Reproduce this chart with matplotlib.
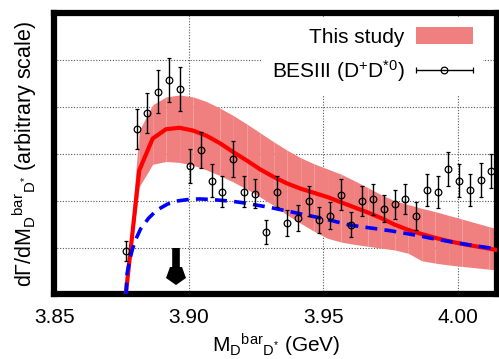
import numpy as np
import matplotlib
matplotlib.use('Agg')
import matplotlib.pyplot as plt
from matplotlib.patches import Patch
from matplotlib.markers import MarkerStyle
from matplotlib.transforms import Affine2D
from matplotlib.container import ErrorbarContainer
from matplotlib.legend_handler import HandlerErrorbar

plt.rcParams['font.family'] = ['Liberation Sans', 'DejaVu Sans']
plt.rcParams['mathtext.fontset'] = 'custom'
plt.rcParams['mathtext.rm'] = 'Liberation Sans'
plt.rcParams['mathtext.it'] = 'Liberation Sans:italic'
plt.rcParams['mathtext.default'] = 'regular'

# BESIII D+D*0 points (arbitrary scale)
mass = [3.8766, 3.8806, 3.8845, 3.8886, 3.8926, 3.8965, 3.9004, 3.9045, 3.9086,
        3.9124, 3.9165, 3.9206, 3.9245, 3.9285, 3.9326, 3.9363, 3.9404, 3.9445,
        3.9484, 3.9524, 3.9564, 3.9603, 3.9643, 3.9684, 3.9725, 3.9765, 3.9804,
        3.9844, 3.9885, 3.9925, 3.9964, 4.0005, 4.0045, 4.0084, 4.0124]
rate = [0.93, 3.53, 3.88, 4.33, 4.58, 4.38, 2.74, 3.09, 2.43,
        2.19, 2.89, 2.19, 2.15, 1.34, 2.19, 1.53, 1.63, 1.99,
        1.59, 1.68, 2.13, 1.49, 1.99, 2.03, 1.83, 1.93, 2.04,
        1.68, 2.23, 2.19, 2.68, 2.43, 2.23, 2.44, 2.64]
rate_err = [0.22, 0.43, 0.43, 0.46, 0.48, 0.47, 0.37, 0.39, 0.35,
            0.33, 0.38, 0.33, 0.31, 0.26, 0.33, 0.28, 0.28, 0.32,
            0.28, 0.29, 0.33, 0.27, 0.32, 0.33, 0.29, 0.31, 0.32,
            0.30, 0.34, 0.34, 0.37, 0.35, 0.34, 0.36, 0.37]

# this study: central curve and uncertainty band
model_mass = [3.8765, 3.8815, 3.8865, 3.8915, 3.8965, 3.9015, 3.9065, 3.9115,
              3.9165, 3.9215, 3.9265, 3.9315, 3.9365, 3.9415, 3.9465, 3.9515,
              3.9565, 3.9615, 3.9665, 3.9715, 3.9765, 3.9815, 3.9865, 3.9915,
              3.9965, 4.0015, 4.0065, 4.0115, 4.0165]
model_rate = [0.00, 2.65, 3.33, 3.53, 3.56, 3.50, 3.39, 3.23,
              3.04, 2.86, 2.67, 2.51, 2.37, 2.26, 2.17, 2.08,
              1.97, 1.86, 1.75, 1.63, 1.49, 1.38, 1.29, 1.21,
              1.14, 1.08, 1.03, 0.98, 0.93]
band_hi = [0.00, 3.50, 4.05, 4.22, 4.26, 4.22, 4.12, 3.98,
           3.82, 3.64, 3.45, 3.26, 3.08, 2.92, 2.79, 2.68,
           2.57, 2.43, 2.28, 2.13, 2.00, 1.92, 1.84, 1.77,
           1.69, 1.61, 1.53, 1.45, 1.37]
band_lo = [0.00, 2.30, 2.78, 2.84, 2.82, 2.76, 2.66, 2.54,
           2.40, 2.25, 2.08, 1.90, 1.70, 1.52, 1.35, 1.20,
           1.12, 1.07, 1.03, 0.99, 0.95, 0.88, 0.72, 0.67,
           0.63, 0.60, 0.57, 0.54, 0.51]

# dashed comparison curve
alt_mass = [3.8766, 3.8770, 3.8780, 3.8790, 3.8800, 3.8820, 3.8850, 3.8880,
            3.8920, 3.8960, 3.9000, 3.9040, 3.9080, 3.9120, 3.9160, 3.9200,
            3.9250, 3.9300, 3.9350, 3.9400, 3.9450, 3.9500, 3.9550, 3.9600,
            3.9650, 3.9700, 3.9750, 3.9800, 3.9850, 3.9900, 3.9950, 4.0000,
            4.0050, 4.0100, 4.0150]
alt_rate = [0.00, 0.45, 0.75, 0.97, 1.15, 1.40, 1.63, 1.80,
            1.93, 2.00, 2.03, 2.04, 2.03, 2.01, 1.99, 1.96,
            1.91, 1.86, 1.80, 1.74, 1.68, 1.62, 1.55, 1.48,
            1.44, 1.40, 1.36, 1.31, 1.26, 1.20, 1.15, 1.10,
            1.05, 1.01, 0.97]

xticks = [3.85, 3.90, 3.95, 4.00]
xtick_labels = ['3.85', '3.90', '3.95', '4.00']

# arrow marking the threshold position
arrow_x = 3.895
arrow_top = 0.99
arrow_head = 0.42

band_color = '#f08080'
fs = 15

fig = plt.figure(figsize=(4.99, 3.59), dpi=100)
ax = fig.add_axes([0.1092, 0.1797, 0.8868, 0.7827])

# band drawn piece by piece (keeps the faint seams of the original)
for i in range(len(model_mass) - 1):
    ax.fill_between(model_mass[i:i + 2], band_lo[i:i + 2], band_hi[i:i + 2],
                    color=band_color, lw=0, zorder=1)

ax.plot(model_mass, model_rate, color='red', lw=3, zorder=3)
ax.plot(alt_mass, alt_rate, color='blue', lw=2.6, ls=(0, (3.3, 2.0)), zorder=4)

ax.errorbar(mass, rate, yerr=rate_err, fmt='o', mfc='none', mec='black', ms=4.8,
            mew=0.9, ecolor='black', elinewidth=1, capsize=1.6, capthick=1, zorder=6)

# threshold arrow
ax.plot([arrow_x, arrow_x], [arrow_top, arrow_head], color='black', lw=5.5,
        solid_capstyle='butt', zorder=5)
head = MarkerStyle('p', transform=Affine2D().rotate_deg(180))
ax.plot([arrow_x], [arrow_head], marker=head, ms=14.4, color='black', mew=0, zorder=5)

ax.set_xlim(3.85, 4.0145)
ax.set_ylim(0, 6)
ax.set_xticks(xticks)
ax.set_xticklabels(xtick_labels)
ax.set_yticks([0, 1, 2, 3, 4, 5, 6])
ax.tick_params(length=0, pad=10, labelsize=fs, labelleft=False)
ax.set_axisbelow(True)
ax.grid(True, color='0.35', ls=(0, (1, 1.5)), lw=0.8)
for s in ax.spines.values():
    s.set_linewidth(4.5)

ax.set_xlabel(r'M$_{D}{}^{bar}{}_{D^{*}}$ (GeV)', fontsize=fs, labelpad=3)
ax.set_ylabel(r'd$\Gamma$/dM$_{D}{}^{bar}{}_{D^{*}}$ (arbitrary scale)', fontsize=15.5,
              labelpad=11)

# legend proxies
eb = ax.errorbar([np.nan], [np.nan], xerr=[1], fmt='o', mfc='none', mec='black',
                 ms=4.8, mew=0.9, ecolor='black', elinewidth=1, capsize=2,
                 capthick=1, label=r'BESIII (D$^{+}$D$^{*0}$)')
handles = [Patch(facecolor=band_color, edgecolor='none', label='This study'), eb]
leg = ax.legend(handles=handles, loc='upper right', bbox_to_anchor=(0.969, 0.988),
                markerfirst=False, frameon=True, fancybox=False, edgecolor='none',
                facecolor='white', framealpha=1, handlelength=2.74, handleheight=0.85,
                handletextpad=0.55, labelspacing=0.55, borderaxespad=0, borderpad=0.5,
                fontsize=fs,
                handler_map={ErrorbarContainer: HandlerErrorbar(xerr_size=1.37)})
leg.set_zorder(2.4)  # keep the frame spine on top

fig.savefig('out.png', dpi=100)
